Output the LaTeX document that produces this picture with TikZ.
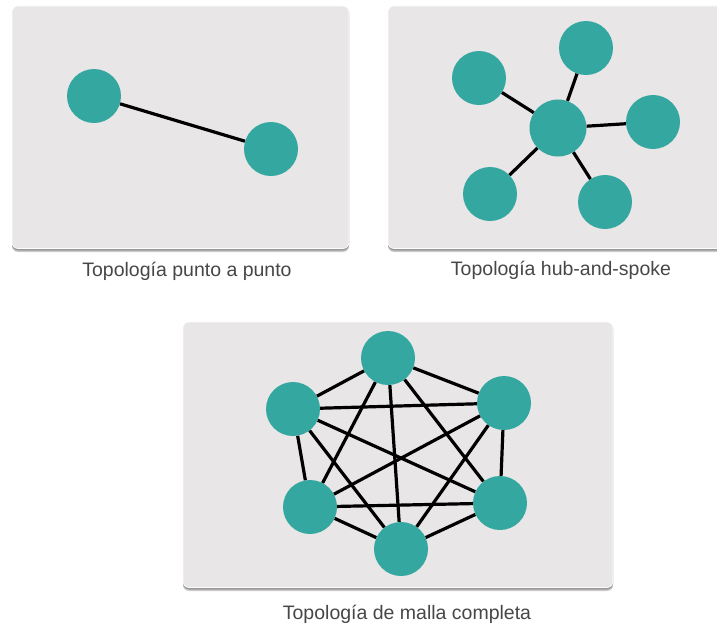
\documentclass[tikz,border=0pt]{standalone}
\usepackage{fontspec}
\setmainfont{Liberation Sans}
\definecolor{panelgray}{HTML}{E8E6E7}
\definecolor{shadowgray}{HTML}{9A9899}
\definecolor{teal}{HTML}{34A7A1}
\definecolor{labelgray}{HTML}{474747}
\tikzset{
  panel/.style={fill=panelgray, draw=white!90!panelgray, line width=0.6pt, rounded corners=6pt},
  panelshadow/.style={fill=shadowgray, rounded corners=6pt},
  dev/.style={circle, fill=teal, minimum size=54pt, inner sep=0pt},
  hubdev/.style={circle, fill=teal, minimum size=57pt, inner sep=0pt},
  link/.style={draw=black, line width=3.2pt},
  caption/.style={text=labelgray, font=\fontsize{19.5}{22}\selectfont, anchor=base, inner sep=0pt}
}
\begin{document}
\begin{tikzpicture}[x=1pt, y=-1pt]
\useasboundingbox (0,0) rectangle (717,625);
\clip (0,0) rectangle (717,625);
\fill[white] (0,0) rectangle (717,625);

% ---------- Panel 1: punto a punto ----------
\path[panelshadow, opacity=0.5] (12,8) rectangle (349,252);
\path[panelshadow] (12,7) rectangle (349,250.5);
\path[panel] (12,6) rectangle (349,248.5);
\node[dev] (p1) at (94,96) {};
\node[dev] (p2) at (271,149) {};
\draw[link] (p1) -- (p2);
\node[caption] (cap1) at (187,276) {Topología punto a punto};

% ---------- Panel 2: hub-and-spoke ----------
\path[panelshadow, opacity=0.5] (388,8) rectangle (730,252);
\path[panelshadow] (388,7) rectangle (730,250.5);
\path[panel] (388,6) rectangle (730,248.5);
\node[hubdev] (hub) at (558,128) {};
\node[dev] (s1) at (586,48) {};
\node[dev] (s2) at (479,78) {};
\node[dev] (s3) at (653,122) {};
\node[dev] (s4) at (490,194) {};
\node[dev] (s5) at (605,202) {};
\foreach \s in {s1,s2,s3,s4,s5} \draw[link] (hub) -- (\s);
\node[caption] (cap2) at (561,275) {Topología hub-and-spoke};

% ---------- Panel 3: malla completa ----------
\path[panelshadow, opacity=0.5] (183,324) rectangle (613,591);
\path[panelshadow] (183,323) rectangle (613,589.5);
\path[panel] (183,322) rectangle (613,587.5);
\node[dev] (m1) at (388,358) {};
\node[dev] (m2) at (293,409) {};
\node[dev] (m3) at (504,403) {};
\node[dev] (m4) at (310,507) {};
\node[dev] (m5) at (500,503) {};
\node[dev] (m6) at (401,549) {};
\draw[link] (m1) -- (m2);
\draw[link] (m1) -- (m3);
\draw[link] (m1) -- (m4);
\draw[link] (m1) -- (m5);
\draw[link] (m1) -- (m6);
\draw[link] (m2) -- (m3);
\draw[link] (m2) -- (m4);
\draw[link] (m2) -- (m5);
\draw[link] (m2) -- (m6);
\draw[link] (m3) -- (m4);
\draw[link] (m3) -- (m5);
\draw[link] (m3) -- (m6);
\draw[link] (m4) -- (m5);
\draw[link] (m4) -- (m6);
\draw[link] (m5) -- (m6);
\node[caption] (cap3) at (407,619) {Topología de malla completa};
\end{tikzpicture}
\end{document}
